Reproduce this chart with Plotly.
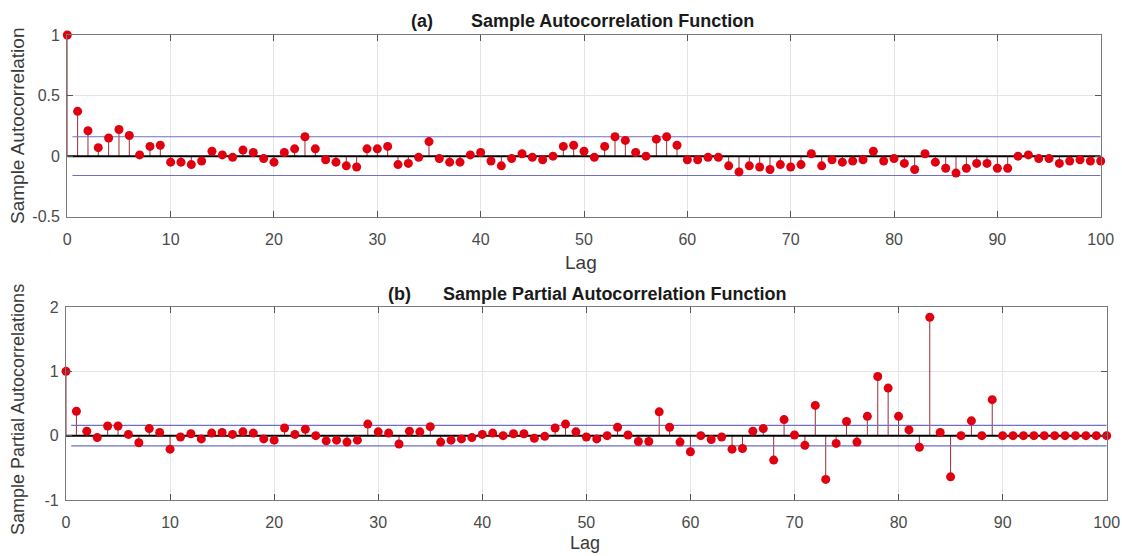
import plotly.graph_objects as go

W, H = 1122, 556

lags = list(range(101))

acf = [1.0, 0.37, 0.21, 0.07, 0.15, 0.22, 0.17, 0.01, 0.08, 0.09,
       -0.05, -0.05, -0.07, -0.04, 0.04, 0.01, -0.01, 0.05, 0.03, -0.02,
       -0.05, 0.03, 0.06, 0.16, 0.06, -0.03, -0.05, -0.08, -0.09, 0.06,
       0.06, 0.08, -0.07, -0.06, -0.01, 0.12, -0.02, -0.05, -0.05, 0.01,
       0.03, -0.04, -0.08, -0.02, 0.02, -0.01, -0.03, 0.0, 0.08, 0.09,
       0.04, -0.01, 0.08, 0.16, 0.13, 0.03, 0.0, 0.14, 0.16, 0.09,
       -0.03, -0.03, -0.01, -0.01, -0.08, -0.13, -0.08, -0.09, -0.11, -0.07,
       -0.09, -0.07, 0.02, -0.08, -0.03, -0.05, -0.04, -0.03, 0.04, -0.04,
       -0.02, -0.06, -0.11, 0.02, -0.05, -0.10, -0.14, -0.10, -0.06, -0.06,
       -0.10, -0.10, 0.0, 0.01, -0.02, -0.02, -0.06, -0.04, -0.03, -0.04,
       -0.04]

pacf = [1.0, 0.38, 0.07, -0.03, 0.15, 0.15, 0.02, -0.11, 0.11, 0.05,
        -0.21, -0.02, 0.03, -0.05, 0.04, 0.05, 0.02, 0.06, 0.04, -0.05,
        -0.07, 0.12, 0.02, 0.10, 0.0, -0.08, -0.07, -0.10, -0.07, 0.18,
        0.06, 0.04, -0.13, 0.07, 0.06, 0.14, -0.10, -0.07, -0.05, -0.03,
        0.02, 0.04, 0.0, 0.03, 0.03, -0.04, -0.01, 0.12, 0.18, 0.06,
        -0.02, -0.05, 0.0, 0.13, 0.01, -0.09, -0.09, 0.37, 0.13, -0.10,
        -0.25, 0.0, -0.06, -0.02, -0.21, -0.20, 0.07, 0.11, -0.38, 0.25,
        0.01, -0.15, 0.47, -0.68, -0.12, 0.22, -0.10, 0.30, 0.92, 0.74,
        0.30, 0.09, -0.18, 1.84, 0.05, -0.64, 0.0, 0.23, 0.0, 0.56,
        0.0, 0.0, 0.0, 0.0, 0.0, 0.0, 0.0, 0.0, 0.0, 0.0,
        0.0]

acf_bound = 0.16
pacf_bound = 0.16

x_ticks = [0, 10, 20, 30, 40, 50, 60, 70, 80, 90, 100]
acf_yticks = [-0.5, 0, 0.5, 1]
acf_yticktext = ["-0.5", "0", "0.5", "1"]
pacf_yticks = [-1, 0, 1, 2]
pacf_yticktext = ["-1", "0", "1", "2"]

title_a = ("(a)", "Sample Autocorrelation Function")
title_b = ("(b)", "Sample Partial Autocorrelation Function")
xlabel = "Lag"
ylabel_a = "Sample Autocorrelation"
ylabel_b = "Sample Partial Autocorrelations"

STEM = "#9b2b35"
MARK = "#e0000f"
BAND = "#6f6fc6"
FONT = "Liberation Sans, Arial, sans-serif"


def stems(vals):
    xs, ys = [], []
    for l, v in zip(lags, vals):
        xs += [l, l, None]
        ys += [0, v, None]
    return xs, ys


fig = go.Figure()

for vals, bound, xa, ya in [(acf, acf_bound, "x", "y"), (pacf, pacf_bound, "x2", "y2")]:
    sx, sy = stems(vals)
    fig.add_trace(go.Scatter(x=sx, y=sy, mode="lines", line=dict(color=STEM, width=1),
                             xaxis=xa, yaxis=ya, hoverinfo="skip", showlegend=False))
    fig.add_trace(go.Scatter(x=[0.5, lags[-1]], y=[bound, bound], mode="lines",
                             line=dict(color=BAND, width=1.2), xaxis=xa, yaxis=ya, showlegend=False))
    fig.add_trace(go.Scatter(x=[0.5, lags[-1]], y=[-bound, -bound], mode="lines",
                             line=dict(color=BAND, width=1.2), xaxis=xa, yaxis=ya, showlegend=False))
    fig.add_trace(go.Scatter(x=[lags[0], lags[-1]], y=[0, 0], mode="lines",
                             line=dict(color="black", width=2), xaxis=xa, yaxis=ya, showlegend=False))
    fig.add_trace(go.Scatter(x=lags, y=vals, mode="markers",
                             marker=dict(color=MARK, size=9, line=dict(width=0)),
                             xaxis=xa, yaxis=ya, showlegend=False, cliponaxis=False))

axis_common = dict(
    showline=True, linecolor="#7a7a7a", linewidth=1.3, mirror="ticks",
    ticks="inside", ticklen=6, tickcolor="#555555", tickwidth=1,
    showgrid=True, gridcolor="#e4e4e4", gridwidth=1, zeroline=False,
    automargin=False,
    tickfont=dict(family=FONT, size=16, color="#4a4a4a"),
)

fig.update_layout(
    width=W, height=H,
    margin=dict(l=0, r=0, t=0, b=0, autoexpand=False),
    paper_bgcolor="white", plot_bgcolor="white",
    showlegend=False,
    xaxis=dict(domain=[67.3 / W, 1100.7 / W], anchor="y", range=[0, 100],
               tickvals=x_ticks, ticklabelstandoff=8, **axis_common),
    yaxis=dict(domain=[1 - 216.7 / H, 1 - 35 / H], anchor="x", range=[-0.5, 1],
               tickvals=acf_yticks, ticktext=acf_yticktext, ticklabelstandoff=3, **axis_common),
    xaxis2=dict(domain=[66 / W, 1106.7 / W], anchor="y2", range=[0, 100],
                tickvals=x_ticks, ticklabelstandoff=8, **axis_common),
    yaxis2=dict(domain=[1 - 500 / H, 1 - 307 / H], anchor="x2", range=[-1, 2],
                tickvals=pacf_yticks, ticktext=pacf_yticktext, ticklabelstandoff=3, **axis_common),
)


def ann(text, px, py, size, bold=False, angle=0, color="#333333"):
    fig.add_annotation(
        text=f"<b>{text}</b>" if bold else text,
        x=px / W, y=1 - py / H, xref="paper", yref="paper",
        xanchor="center", yanchor="middle", showarrow=False, textangle=angle,
        font=dict(family=FONT, size=size, color=color),
    )


ann(title_a[0], 422, 21, 18, bold=True, color="#1a1a1a")
ann(title_a[1], 612.5, 21, 18, bold=True, color="#1a1a1a")
ann(title_b[0], 399, 294, 18, bold=True, color="#1a1a1a")
ann(title_b[1], 614, 294, 18, bold=True, color="#1a1a1a")
ann(xlabel, 581, 263, 19, color="#3a3a3a")
ann(xlabel, 585, 543, 18, color="#3a3a3a")
ann(ylabel_a, 17, 126, 19, angle=-90, color="#3a3a3a")
ann(ylabel_b, 18, 410, 18, angle=-90, color="#3a3a3a")

fig.write_html("out.html")
